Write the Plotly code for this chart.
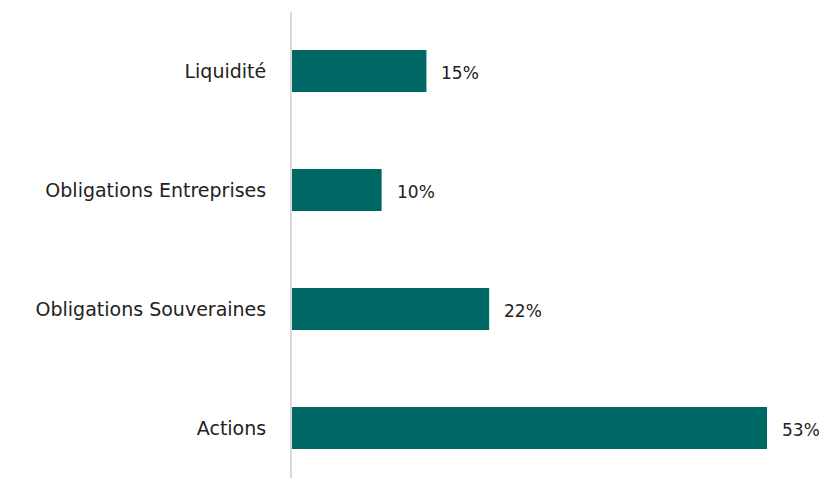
import plotly.graph_objects as go

categories = ["Actions", "Obligations Souveraines", "Obligations Entreprises", "Liquidité"]
values = [53, 22, 10, 15]
labels = ["53%", "22%", "10%", "15%"]

FONT = "DejaVu Sans"

fig = go.Figure(go.Bar(
    x=values, y=categories, orientation="h",
    marker=dict(color="#006864", line=dict(width=0)),
    width=0.353,
    hoverinfo="skip",
))

for v, c, t in zip(values, categories, labels):
    fig.add_annotation(x=v, y=c, text=t, showarrow=False, xanchor="left",
                       xshift=13, yshift=-2,
                       font=dict(family=FONT, size=17, color="#222222"))

fig.update_layout(
    width=819, height=480,
    margin=dict(l=292, r=0, t=12, b=2),
    paper_bgcolor="white", plot_bgcolor="white",
    font=dict(family=FONT, size=17, color="#222222"),
    showlegend=False,
    xaxis=dict(range=[0, 58.8], visible=False, fixedrange=True),
    yaxis=dict(
        range=[-0.420, 3.496], showline=True, linecolor="#d9d9d9", linewidth=2,
        showgrid=False, zeroline=False, ticks="", ticklabelstandoff=20,
        tickfont=dict(size=19, color="#222222", family=FONT),
    ),
)

fig.write_html("out.html", config={"displayModeBar": False},
               post_script="document.body.style.margin='0';document.body.style.overflow='hidden';")
